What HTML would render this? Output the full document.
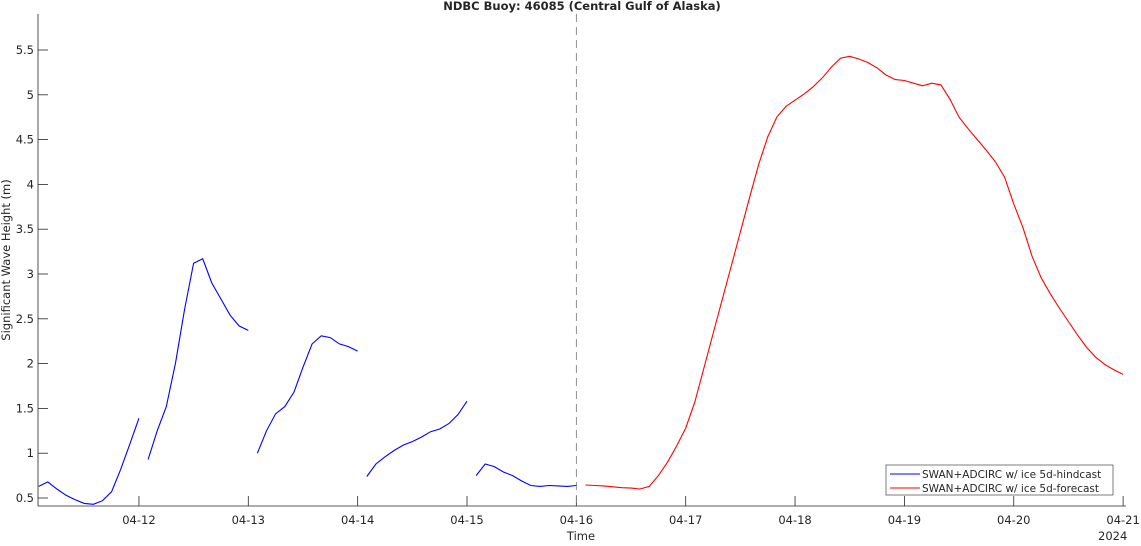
<!DOCTYPE html>
<html><head><meta charset="utf-8"><style>
body{margin:0;background:#fff;font-family:"Liberation Sans","DejaVu Sans",sans-serif;}
svg text{font-family:"DejaVu Sans","Liberation Sans",sans-serif;font-size:11.5px;fill:#262626;}
</style></head><body>
<svg id="chart" width="1141" height="541" xmlns="http://www.w3.org/2000/svg">
<text x="582" y="10" text-anchor="middle" font-weight="bold">NDBC Buoy: 46085 (Central Gulf of Alaska)</text>
<text x="581" y="540" text-anchor="middle">Time</text>
<text x="1098" y="540">2024</text>
<text transform="translate(10,260) rotate(-90)" text-anchor="middle">Significant Wave Height (m)</text>
<g id="axes"></g><g id="series"></g>
<g>
<rect x="886" y="465" width="227" height="30" fill="#fff" stroke="#262626" stroke-width="0.6"/>
<line x1="890" y1="474" x2="920" y2="474" stroke="#00f"/>
<text x="922" y="478" style="font-size:10.5px">SWAN+ADCIRC w/ ice 5d-hindcast</text>
<line x1="890" y1="488" x2="920" y2="488" stroke="#f00"/>
<text x="922" y="492" style="font-size:10.5px">SWAN+ADCIRC w/ ice 5d-forecast</text>
</g>
</svg>
<script>
const xTickLabels=["04-12","04-13","04-14","04-15","04-16","04-17","04-18","04-19","04-20","04-21"];
const yTicks=[0.5,1,1.5,2,2.5,3,3.5,4,4.5,5,5.5];
// hindcast: one segment per day, 2-hourly, starting 02h of day index (0 = 04-11)
const hind1=[0.63,0.68,0.6,0.53,0.48,0.44,0.43,0.47,0.57,0.82,1.1,1.39];
const hind2=[0.93,1.25,1.52,2.0,2.6,3.12,3.17,2.9,2.72,2.54,2.42,2.37];
const hind3=[1.0,1.25,1.44,1.52,1.68,1.96,2.22,2.31,2.29,2.22,2.19,2.14];
const hind4=[0.74,0.88,0.96,1.03,1.09,1.13,1.18,1.24,1.27,1.33,1.43,1.58];
const hind5=[0.75,0.88,0.85,0.79,0.75,0.69,0.64,0.63,0.64,0.635,0.63,0.64];
const forecast=[0.645,0.64,0.635,0.625,0.615,0.61,0.60,0.63,0.75,0.9,1.08,1.28,
1.57,1.95,2.33,2.71,3.09,3.47,3.85,4.22,4.53,4.75,4.87,4.94,
5.01,5.09,5.19,5.31,5.41,5.43,5.40,5.36,5.30,5.22,5.17,5.16,
5.13,5.10,5.13,5.11,4.95,4.75,4.62,4.50,4.38,4.25,4.08,3.78,
3.52,3.2,2.96,2.78,2.62,2.47,2.32,2.18,2.07,1.99,1.93,1.88];
const NS="http://www.w3.org/2000/svg";
const X0=38,X1=1126,Y0=506,Y1=14;
const xs=d=>29.6+d*109.35;           // d = days since 04-11 00h
const ys=v=>498-(v-0.5)*89.6;
function mk(tag,attrs,parent){const e=document.createElementNS(NS,tag);for(const k in attrs)e.setAttribute(k,attrs[k]);parent.appendChild(e);return e;}
const ax=document.getElementById('axes'),se=document.getElementById('series');
let l=mk('line',{x1:X0,y1:Y0,x2:X1,y2:Y0,stroke:'#262626','stroke-width':0.8},ax);


l=mk('line',{x1:X0,y1:Y0,x2:X0,y2:Y1,stroke:'#262626','stroke-width':0.8},ax);


xTickLabels.forEach((t,i)=>{const x=xs(i+1);
 mk('line',{x1:x,y1:Y0,x2:x,y2:Y0-10,stroke:'#262626','stroke-width':0.8},ax);
 const tx=mk('text',{x:x,y:524,'text-anchor':'middle'},ax);tx.textContent=t;
 
 });
yTicks.forEach(v=>{const y=ys(v);
 mk('line',{x1:X0,y1:y,x2:X0+10,y2:y,stroke:'#262626','stroke-width':0.8},ax);
 const tx=mk('text',{x:X0-4,y:y+4,'text-anchor':'end'},ax);tx.textContent=String(v);
 
 });
l=mk('line',{x1:xs(5),y1:Y1,x2:xs(5),y2:Y0,stroke:'#777','stroke-width':0.8,'stroke-dasharray':'8,5'},ax);


function series(arr,startDay,color,name){
 const pts=arr.map((v,i)=>xs(startDay+(i+1)/12).toFixed(1)+','+ys(v).toFixed(1)).join(' ');
 const p=mk('polyline',{points:pts,fill:'none',stroke:color,'stroke-width':1.1},se);
 
 }
[hind1,hind2,hind3,hind4,hind5].forEach((a,i)=>series(a,i,'#00f','hindcast-line'));
series(forecast,5,'#f00','forecast-line');
</script>
</body></html>
